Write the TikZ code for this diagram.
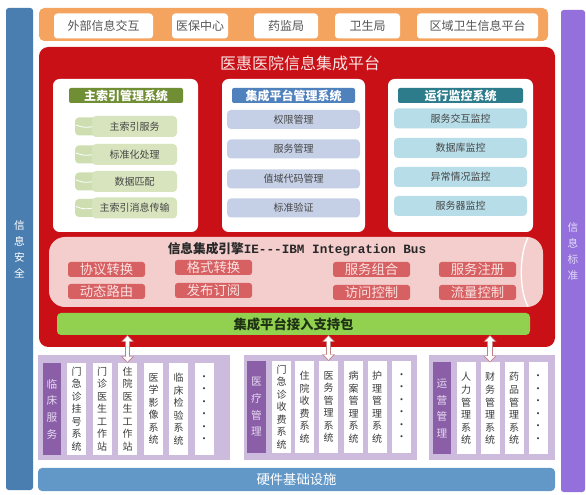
\documentclass[tikz,border=0pt]{standalone}
\usepackage{fontspec}
\setmainfont{Noto Sans CJK SC}
\setmonofont{Liberation Mono}
\usetikzlibrary{arrows.meta}

\tikzset{every picture/.style={line width=0.75pt}}
\tikzset{
  wh/.style 2 args={minimum width=#1*0.75pt, minimum height=#2*0.75pt, inner sep=0pt, outer sep=0pt},
  sidebar/.style={rounded corners=2pt, align=center, font=\fontsize{8}{12}\selectfont},
  outbox/.style={fill=white, rounded corners=2.5pt, text={rgb, 255:red, 85; green, 85; blue, 85 }, font=\fontsize{9}{10}\selectfont},
  panelbox/.style={fill=white, rounded corners=5pt},
  hdr/.style={rounded corners=1.5pt, text=white, font=\bfseries\fontsize{9}{10}\selectfont},
  sysitem/.style={rounded corners=3pt, text={rgb, 255:red, 70; green, 70; blue, 70 }, font=\fontsize{7.5}{9}\selectfont},
  busitem/.style={wh={77}{15}, rounded corners=2pt, fill={rgb, 255:red, 214; green, 96; blue, 98 }, text={rgb, 255:red, 252; green, 226; blue, 226 }, font=\fontsize{10}{11}\selectfont},
  grp/.style={fill={rgb, 255:red, 204; green, 187; blue, 221 }},
  grplabel/.style={wh={18.5}{92}, fill={rgb, 255:red, 138; green, 95; blue, 168 }, text={rgb, 255:red, 232; green, 218; blue, 242 }, align=center, font=\fontsize{8}{12.5}\selectfont},
  syscol/.style={wh={19}{92}, fill=white, text={rgb, 255:red, 60; green, 60; blue, 60 }, align=center, font=\fontsize{7.5}{9.4}\selectfont},
  linkout/.style={draw={rgb, 255:red, 196; green, 128; blue, 128 }, line width=4.4pt, {Triangle[length=5pt,width=9.5pt]}-{Triangle[length=5pt,width=9.5pt]}},
  linkin/.style={draw=white, line width=2.8pt, shorten <=0.9pt, shorten >=0.9pt, {Triangle[length=3.8pt,width=7pt]}-{Triangle[length=3.8pt,width=7pt]}}
}

\begin{document}
\begin{tikzpicture}[x=0.75pt,y=0.75pt,yscale=-1,xscale=1]
\fill[white] (0,0) rectangle (586,495);
\path[use as bounding box] (0,0) rectangle (586,495);

%Shape: Rectangle -- side bars
\node[sidebar, wh={27}{482}, fill={rgb, 255:red, 74; green, 126; blue, 176 }, text=white] (secbar) at (19.5,249) {信\\息\\安\\全};
\node[sidebar, wh={24}{482}, fill={rgb, 255:red, 147; green, 112; blue, 219 }, text={rgb, 255:red, 228; green, 218; blue, 248 }] (stdbar) at (573,251) {信\\息\\标\\准};

%Shape: Rectangle -- external parties
\node[wh={509}{33}, rounded corners=4pt, fill={rgb, 255:red, 245; green, 164; blue, 96 }] (ext) at (293.5,24.5) {};
\node[outbox, wh={99}{25}] (ext1) at (103.5,26) {外部信息交互};
\node[outbox, wh={56}{25}] (ext2) at (200,26) {医保中心};
\node[outbox, wh={64}{25}] (ext3) at (286,26) {药监局};
\node[outbox, wh={65}{25}] (ext4) at (367.5,26) {卫生局};
\node[outbox, wh={121}{25}] (ext5) at (477.5,26) {区域卫生信息平台};

%Shape: Rectangle -- integration platform
\node[wh={516}{300}, rounded corners=7pt, fill={rgb, 255:red, 200; green, 16; blue, 22 }] (esb) at (297,197) {};
\node[text={rgb, 255:red, 250; green, 228; blue, 228 }, font=\fontsize{12}{14}\selectfont] (esbtitle) at (300,63) {医惠医院信息集成平台};

\node[panelbox, wh={145}{153}] (mpi) at (125.5,155.5) {};
\node[panelbox, wh={143}{153}] (mgmt) at (293.5,155.5) {};
\node[panelbox, wh={145}{153}] (mon) at (460.5,155.5) {};

\node[hdr, wh={114}{15}, fill={rgb, 255:red, 112; green, 142; blue, 52 }] (mpihd) at (126,95.5) {主索引管理系统};
\node[hdr, wh={123}{15}, fill={rgb, 255:red, 79; green, 129; blue, 189 }] (mgmthd) at (293.5,95.5) {集成平台管理系统};
\node[hdr, wh={125}{15}, fill={rgb, 255:red, 44; green, 124; blue, 140 }] (monhd) at (460.5,95.5) {运行监控系统};

\foreach \y/\t [count=\i] in {126.5/主索引服务,154.5/标准化处理,181.5/数据匹配,208/主索引消息传输}{
  \draw[draw=none, fill={rgb, 255:red, 206; green, 222; blue, 176 }, rounded corners=3pt] (75,\y-9) rectangle (98,\y+9);
  \draw[white, line width=0.6pt] (76,\y-1.5) .. controls (82,\y+1.5) and (90,\y+1.5) .. (96,\y-1);
  \node[sysitem, wh={85}{21}, fill={rgb, 255:red, 215; green, 228; blue, 189 }] (mpi\i) at (134.5,\y) {\t};
}
\foreach \y/\t [count=\i] in {119.5/权限管理,149/服务管理,179/值域代码管理,208/标准验证}
  \node[sysitem, wh={133}{19}, fill={rgb, 255:red, 197; green, 208; blue, 230 }] (mgmt\i) at (293.5,\y) {\t};
\foreach \y/\t [count=\i] in {118.5/服务交互监控,148/数据库监控,177/异常情况监控,206/服务器监控}
  \node[sysitem, wh={133}{20}, fill={rgb, 255:red, 183; green, 221; blue, 232 }] (mon\i) at (460.5,\y) {\t};

%Shape: Can -- integration engine
\node[wh={494}{70}, rounded corners=12pt, fill={rgb, 255:red, 244; green, 205; blue, 205 }] (bus) at (296,272) {};
\draw[white, line width=1pt] (528,237.5) .. controls (519,255) and (519,290) .. (528,306.5);
\node[font=\bfseries\fontsize{9.5}{11}\selectfont, text={rgb, 255:red, 40; green, 40; blue, 40 }] (bustitle) at (297,249) {信息集成引擎\texttt{IE-{}-{}-IBM Integration Bus}};

\node[busitem] (bus1) at (106.5,269.5) {协议转换};
\node[busitem] (bus2) at (106.5,291.5) {动态路由};
\node[busitem] (bus3) at (213.5,267.5) {格式转换};
\node[busitem] (bus4) at (213.5,290.5) {发布订阅};
\node[busitem] (bus5) at (371.5,269.5) {服务组合};
\node[busitem] (bus6) at (371.5,292.5) {访问控制};
\node[busitem] (bus7) at (477.5,269.5) {服务注册};
\node[busitem] (bus8) at (477.5,292.5) {流量控制};

\node[wh={473}{22}, rounded corners=3pt, fill={rgb, 255:red, 146; green, 208; blue, 80 }, font=\bfseries\fontsize{10}{11}\selectfont, text={rgb, 255:red, 30; green, 50; blue, 20 }] (sdk) at (293.5,324) {集成平台接入支持包};

%Shape: Rectangle -- business systems
\node[grp, wh={192}{105}] (clin) at (134,407.5) {};
\node[grp, wh={173}{105}] (med) at (330.5,407.5) {};
\node[grp, wh={126}{105}] (ops) at (492,407.5) {};

\node[grplabel] (clinlb) at (52,409) {临\\床\\服\\务};
\node[grplabel] (medlb) at (256.5,407) {医\\疗\\管\\理};
\node[grplabel] (opslb) at (442,408.5) {运\\营\\管\\理};

\foreach \x/\t [count=\i] in {76.5/门\\急\\诊\\挂\\号\\系\\统, 102/门\\诊\\医\\生\\工\\作\\站, 127.5/住\\院\\医\\生\\工\\作\\站, 153.5/医\\学\\影\\像\\系\\统, 178.5/临\\床\\检\\验\\系\\统, 204/·\\·\\·\\·\\·\\·}
  \node[syscol] (clin\i) at (\x,409) {\t};
\foreach \x/\t [count=\i] in {281.5/门\\急\\诊\\收\\费\\系\\统, 304.5/住\\院\\收\\费\\系\\统, 328.5/医\\务\\管\\理\\系\\统, 353.5/病\\案\\管\\理\\系\\统, 377/护\\理\\管\\理\\系\\统, 401.5/·\\·\\·\\·\\·\\·}
  \node[syscol] (med\i) at (\x,407) {\t};
\foreach \x/\t [count=\i] in {466/人\\力\\管\\理\\系\\统, 490/财\\务\\管\\理\\系\\统, 514/药\\品\\管\\理\\系\\统, 538/·\\·\\·\\·\\·\\·}
  \node[syscol] (ops\i) at (\x,408.5) {\t};

%Shape: Rectangle -- hardware
\node[wh={517}{23}, rounded corners=3pt, fill={rgb, 255:red, 98; green, 152; blue, 200 }, text=white, font=\fontsize{10}{11}\selectfont] (hw) at (296.5,479.5) {硬件基础设施};

%Connectors
\foreach \b in {clin3,med3,ops2}{
  \draw[linkout] (sdk.south -| \b.north) -- (\b.north);
  \draw[linkin] (sdk.south -| \b.north) -- (\b.north);
}

\end{tikzpicture}
\end{document}
